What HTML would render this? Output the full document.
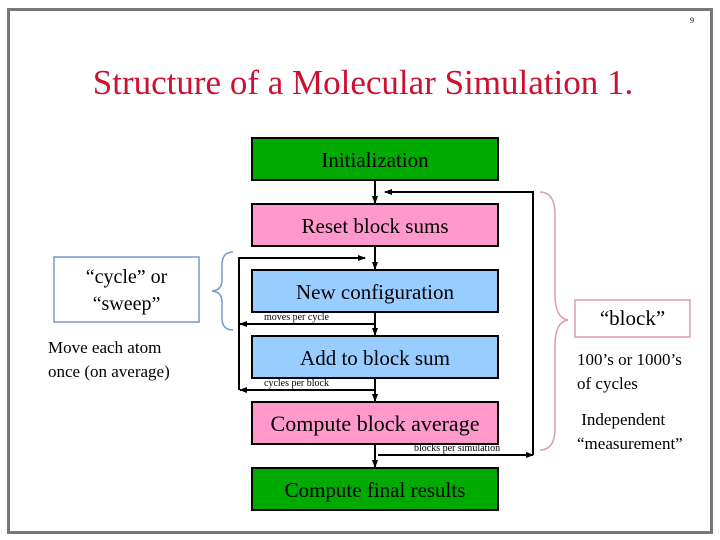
<!DOCTYPE html>
<html><head><style>
body{margin:0;width:720px;height:540px;background:#fff;overflow:hidden;font-family:"Liberation Serif",serif}
.t{position:absolute;white-space:nowrap}
</style></head><body>
<svg width="720" height="540" style="position:absolute;left:0;top:0">
<defs><marker id="a" markerWidth="8" markerHeight="8" refX="7" refY="4" orient="auto" markerUnits="userSpaceOnUse"><path d="M0,1 L8,4 L0,7z" fill="#000"/></marker></defs>
<rect x="8.5" y="9.5" width="703" height="523" fill="none" stroke="#777" stroke-width="3"/>
<g stroke="#000" stroke-width="2">
<rect x="252" y="138" width="246" height="42" fill="#00aa00"/>
<rect x="252" y="204" width="246" height="42" fill="#ff99cc"/>
<rect x="252" y="270" width="246" height="42" fill="#99ccff"/>
<rect x="252" y="336" width="246" height="42" fill="#99ccff"/>
<rect x="252" y="402" width="246" height="42" fill="#ff99cc"/>
<rect x="252" y="468" width="246" height="42" fill="#00aa00"/>
</g>
<g stroke="#000" stroke-width="2" fill="none">
<line x1="375" y1="180" x2="375" y2="203" marker-end="url(#a)"/>
<line x1="375" y1="246" x2="375" y2="269" marker-end="url(#a)"/>
<line x1="375" y1="312" x2="375" y2="335" marker-end="url(#a)"/>
<line x1="375" y1="378" x2="375" y2="401" marker-end="url(#a)"/>
<line x1="375" y1="444" x2="375" y2="467" marker-end="url(#a)"/>
<polyline points="378,455 533,455" marker-end="url(#a)"/>
<polyline points="533,455 533,192 385,192" marker-end="url(#a)"/>
<line x1="375" y1="324" x2="240" y2="324" marker-end="url(#a)"/>
<line x1="375" y1="390" x2="240" y2="390" marker-end="url(#a)"/>
<polyline points="239,390 239,258 365,258" marker-end="url(#a)"/>
</g>
<rect x="54" y="257" width="145" height="65" fill="none" stroke="#7799cc" stroke-width="1.5"/>
<path d="M233,252 Q222,252 222,265 L222,280 Q222,290 212,291 Q222,292 222,302 L222,318 Q222,330 233,330" fill="none" stroke="#7799cc" stroke-width="1.5"/>
<rect x="575" y="300" width="115" height="37" fill="none" stroke="#dd99bb" stroke-width="1.5"/>
<path d="M540,192 Q555,192 555,215 L555,295 Q555,318 568,320 Q555,322 555,345 L555,428 Q555,450 540,450" fill="none" stroke="#dd99bb" stroke-width="1.5"/>
</svg>
<div class="t" style="left:0;width:726px;text-align:center;top:63px;font-size:35px;color:#cc1133">Structure of a Molecular Simulation 1.</div>
<div class="t" style="left:690px;top:16px;font-size:8px">9</div>
<div class="t" style="left:252px;width:246px;text-align:center;top:148px;font-size:21px">Initialization</div>
<div class="t" style="left:252px;width:246px;text-align:center;top:214px;font-size:21px">Reset block sums</div>
<div class="t" style="left:252px;width:246px;text-align:center;top:280px;font-size:21px">New configuration</div>
<div class="t" style="left:252px;width:246px;text-align:center;top:346px;font-size:21px">Add to block sum</div>
<div class="t" style="left:252px;width:246px;text-align:center;top:411px;font-size:22px">Compute block average</div>
<div class="t" style="left:252px;width:246px;text-align:center;top:478px;font-size:21px">Compute final results</div>
<div class="t" style="left:264px;top:312px;font-size:10px">moves per cycle</div>
<div class="t" style="left:264px;top:378px;font-size:10px">cycles per block</div>
<div class="t" style="left:414px;top:443px;font-size:10px">blocks per simulation</div>
<div class="t" style="left:54px;width:145px;text-align:center;top:264px;font-size:20px;line-height:27px">“cycle” or<br>“sweep”</div>
<div class="t" style="left:48px;top:336px;font-size:17px;line-height:24px">Move each atom<br>once (on average)</div>
<div class="t" style="left:575px;width:115px;text-align:center;top:306px;font-size:21px">“block”</div>
<div class="t" style="left:577px;top:348px;font-size:17px;line-height:24px">100’s or 1000’s<br>of cycles</div>
<div class="t" style="left:577px;top:408px;font-size:17px;line-height:24px">&nbsp;Independent<br>“measurement”</div>
</body></html>
